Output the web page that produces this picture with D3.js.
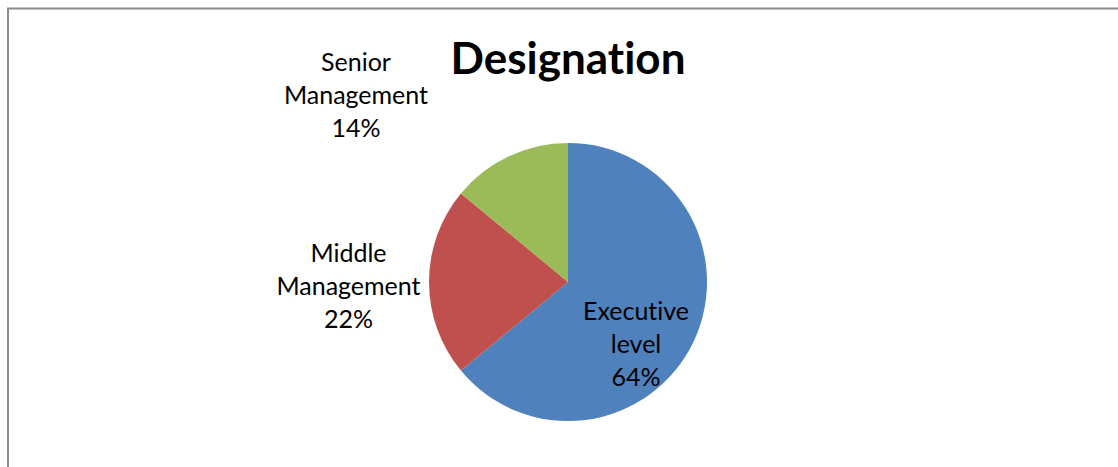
<!DOCTYPE html>
<html>
<head>
<meta charset="utf-8">
<script src="https://cdn.jsdelivr.net/npm/d3@7"></script>
<style>
  html, body { margin: 0; padding: 0; background: #fff; }
  svg { display: block; }
  text { font-variant-ligatures: none; font-feature-settings: "liga" 0; }
</style>
</head>
<body>
<svg id="chart" width="1118" height="467"></svg>
<script>
// Share of respondents by designation
const categories = ["Executive level", "Middle Management", "Senior Management"];
const labelLines = [["Executive", "level"], ["Middle", "Management"], ["Senior", "Management"]];
const shares = [64, 22, 14];
const colors = ["#4F81BD", "#C0504D", "#9BBB59"];

const W = 1118, H = 467;
const svg = d3.select("#chart");

// Frame lines (top and left edges of the chart area)
svg.append("line").attr("x1", 7).attr("x2", W).attr("y1", 8.5).attr("y2", 8.5)
  .attr("stroke", "#8c8c8c").attr("stroke-width", 2);
svg.append("line").attr("x1", 8).attr("x2", 8).attr("y1", 8).attr("y2", H)
  .attr("stroke", "#8c8c8c").attr("stroke-width", 2);

// Title
svg.append("text")
  .attr("x", 568).attr("y", 74)
  .attr("text-anchor", "middle")
  .attr("font-family", "Lato, 'Noto Sans', sans-serif")
  .attr("font-weight", "bold")
  .attr("font-size", 44)
  .attr("fill", "#000")
  .text("Designation");

const cx = 568, cy = 282, r = 139;
const data = categories.map((c, i) => ({ name: c, value: shares[i], lines: labelLines[i], color: colors[i] }));

const pie = d3.pie().value(d => d.value).sort(null);
const arc = d3.arc().innerRadius(0).outerRadius(r);
const arcs = pie(data);

const g = svg.append("g").attr("transform", `translate(${cx},${cy})`);
g.selectAll("path")
  .data(arcs)
  .enter().append("path")
  .attr("d", arc)
  .attr("fill", d => d.data.color);

// Data labels: Executive inside the slice, the others outside
const labelPos = [
  { x: 636, y: 320 },
  { x: 348.5, y: 262 },
  { x: 356, y: 71 }
];
const lineH = 33;

const labels = svg.append("g")
  .attr("font-family", "Lato, 'Noto Sans', sans-serif")
  .attr("font-size", 25)
  .attr("fill", "#000")
  .attr("text-anchor", "middle");

arcs.forEach((a, i) => {
  const t = labels.append("text").attr("x", labelPos[i].x).attr("y", labelPos[i].y);
  const lines = a.data.lines.concat([a.data.value + "%"]);
  lines.forEach((ln, j) => {
    t.append("tspan").attr("x", labelPos[i].x).attr("y", labelPos[i].y + j * lineH).text(ln);
  });
});
</script>
</body>
</html>
